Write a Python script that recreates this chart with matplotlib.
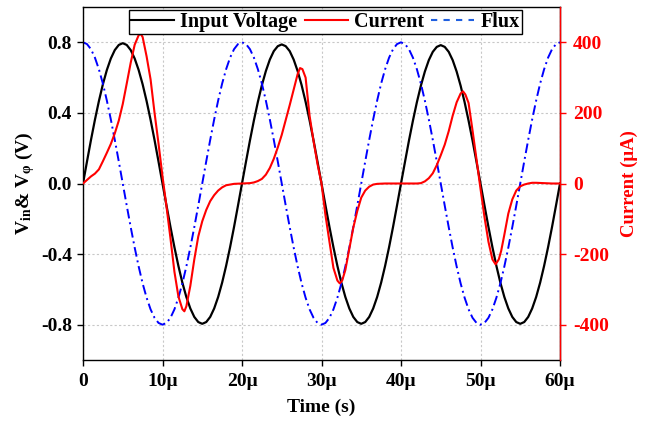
import numpy as np
import matplotlib
matplotlib.use('Agg')
import matplotlib.pyplot as plt
from matplotlib.lines import Line2D

plt.rcParams['font.family'] = ['Liberation Serif', 'DejaVu Serif']
plt.rcParams['font.weight'] = 'bold'
plt.rcParams['mathtext.fontset'] = 'custom'
plt.rcParams['mathtext.rm'] = 'Liberation Serif:bold'
plt.rcParams['mathtext.it'] = 'Liberation Serif:bold'
plt.rcParams['mathtext.bf'] = 'Liberation Serif:bold'

# time base for voltage and flux (us)
t_wave = np.linspace(0, 60, 121)

volt = [
    0.000, 0.124, 0.246, 0.361, 0.467, 0.562, 0.643, 0.708, 0.756, 0.785,
    0.795, 0.785, 0.756, 0.708, 0.643, 0.562, 0.467, 0.361, 0.246, 0.124,
    0.000, -0.124, -0.246, -0.361, -0.467, -0.562, -0.643, -0.708, -0.756, -0.785,
    -0.795, -0.785, -0.756, -0.708, -0.643, -0.562, -0.467, -0.361, -0.246, -0.124,
    0.000, 0.123, 0.244, 0.358, 0.463, 0.557, 0.637, 0.702, 0.750, 0.778,
    0.788, 0.778, 0.750, 0.702, 0.637, 0.557, 0.463, 0.358, 0.244, 0.123,
    0.000, -0.124, -0.246, -0.361, -0.467, -0.562, -0.643, -0.708, -0.756, -0.785,
    -0.795, -0.785, -0.756, -0.708, -0.643, -0.562, -0.467, -0.361, -0.246, -0.124,
    0.000, 0.122, 0.243, 0.356, 0.461, 0.554, 0.634, 0.699, 0.746, 0.774,
    0.784, 0.774, 0.746, 0.699, 0.634, 0.554, 0.461, 0.356, 0.243, 0.122,
    0.000, -0.124, -0.246, -0.361, -0.467, -0.562, -0.643, -0.708, -0.756, -0.785,
    -0.795, -0.785, -0.756, -0.708, -0.643, -0.562, -0.467, -0.361, -0.246, -0.124,
    0.000,
]

flux = [
    0.800, 0.790, 0.761, 0.713, 0.647, 0.566, 0.470, 0.363, 0.247, 0.125,
    0.000, -0.125, -0.247, -0.363, -0.470, -0.566, -0.647, -0.713, -0.761, -0.790,
    -0.800, -0.790, -0.761, -0.713, -0.647, -0.566, -0.470, -0.363, -0.247, -0.125,
    0.000, 0.125, 0.247, 0.363, 0.470, 0.566, 0.647, 0.713, 0.761, 0.790,
    0.800, 0.790, 0.761, 0.713, 0.647, 0.566, 0.470, 0.363, 0.247, 0.125,
    0.000, -0.125, -0.247, -0.363, -0.470, -0.566, -0.647, -0.713, -0.761, -0.790,
    -0.800, -0.790, -0.761, -0.713, -0.647, -0.566, -0.470, -0.363, -0.247, -0.125,
    0.000, 0.125, 0.247, 0.363, 0.470, 0.566, 0.647, 0.713, 0.761, 0.790,
    0.800, 0.790, 0.761, 0.713, 0.647, 0.566, 0.470, 0.363, 0.247, 0.125,
    0.000, -0.125, -0.247, -0.363, -0.470, -0.566, -0.647, -0.713, -0.761, -0.790,
    -0.800, -0.790, -0.761, -0.713, -0.647, -0.566, -0.470, -0.363, -0.247, -0.125,
    0.000, 0.125, 0.247, 0.363, 0.470, 0.566, 0.647, 0.713, 0.761, 0.790,
    0.800,
]

# current (uA) read at irregular times (us)
t_cur = [
    0, 0.5, 1, 1.5, 2, 2.5, 3, 3.5, 4, 4.5, 5, 5.5, 6, 6.5, 7, 7.25, 7.5, 8, 8.5, 9,
    9.5, 10, 10.5, 11, 11.5, 12, 12.5, 12.75, 13, 13.5, 14, 14.5, 15, 15.5, 16, 16.5, 17, 17.5, 18, 19,
    20, 21, 21.5, 22, 22.5, 23, 23.5, 24, 24.5, 25, 25.5, 26, 26.5, 27, 27.3, 27.6, 28, 28.5, 29, 29.5,
    30, 30.5, 31, 31.5, 32, 32.3, 32.6, 33, 33.5, 34, 34.5, 35, 35.5, 36, 36.5, 37, 38, 39,
    40, 42, 42.5, 43, 43.5, 44, 44.5, 45, 45.5, 46, 46.5, 47, 47.5, 47.8, 48.1, 48.5, 49, 49.5, 50, 50.5,
    51, 51.5, 51.9, 52.3, 52.6, 53, 53.5, 54, 54.5, 55, 55.5, 56, 56.5, 57, 58, 59, 60,
]
current = [
    0, 10, 20, 28, 40, 63, 87, 112, 142, 178, 225, 283, 342, 393, 420, 424, 415, 360, 295, 200,
    113, 20, -65, -155, -250, -320, -356, -362, -348, -290, -215, -150, -107, -75, -50, -33, -20, -11, -5, -1,
    0, 1, 3, 7, 13, 25, 44, 70, 102, 138, 180, 222, 266, 310, 327, 324, 300, 192, 120, 55,
    0, -90, -165, -239, -275, -283, -275, -245, -185, -125, -78, -40, -20, -9, -3, -1, 0, 0,
    0, 0, 1, 6, 15, 29, 52, 80, 110, 148, 192, 230, 255, 261, 252, 228, 150, 68, -15, -95,
    -165, -215, -229, -215, -191, -145, -85, -45, -20, -8, -3, 0, 2, 2, 1, 0, 0,
]

x_ticks = [0, 10, 20, 30, 40, 50, 60]
x_labels = ['0', '10\u03bc', '20\u03bc', '30\u03bc', '40\u03bc', '50\u03bc', '60\u03bc']
v_ticks = [-0.8, -0.4, 0.0, 0.4, 0.8]
i_ticks = [-400, -200, 0, 200, 400]

fig = plt.figure(figsize=(6.51, 4.22), dpi=100)
ax = fig.add_axes([83 / 651, 62 / 422, 477 / 651, 353 / 422])

ax.plot(t_wave, volt, color='black', lw=1.6)
ax.plot(t_wave, flux, color='blue', lw=1.4, dashes=(5, 2, 1, 2))
ax.set_xlim(0, 60)
ax.set_ylim(-1.0, 1.0)
ax.set_xticks(x_ticks)
ax.set_xticklabels(x_labels)
ax.set_yticks(v_ticks)
ax.set_yticklabels(['%.1f' % v for v in v_ticks])
ax.grid(True, color='#c8c8c8', linestyle=(0, (2, 2)), lw=0.8)
ax.tick_params(direction='out', length=4.5, width=1, labelsize=14)
ax.tick_params(axis='x', pad=5)
ax.set_xlabel('Time (s)', fontsize=14, fontweight='bold', labelpad=6)
ax.set_ylabel('V$_{in}$& V$_{\u03c6}$ (V)', fontsize=14, fontweight='bold', labelpad=3)
for s in ax.spines.values():
    s.set_linewidth(1.0)

ax2 = ax.twinx()
ax2.plot(t_cur, current, color='red', lw=1.5)
ax2.set_ylim(-500, 500)
ax2.set_yticks(i_ticks)
ax2.set_yticklabels([str(v) for v in i_ticks])
ax2.tick_params(axis='y', direction='out', length=4.5, width=1, pad=5,
                colors='red', labelsize=14)
ax2.set_ylabel('Current (\u03bcA)', color='red', fontsize=13.5, fontweight='bold', labelpad=8)
ax2.spines['right'].set_color('red')
ax2.spines['right'].set_linewidth(1.0)
for k in ['left', 'top', 'bottom']:
    ax2.spines[k].set_visible(False)

handles = [
    Line2D([], [], color='black', lw=1.5),
    Line2D([], [], color='red', lw=1.5),
    Line2D([], [], color='#1f5fe0', lw=1.5, linestyle=(0, (3, 3))),
]
leg = ax2.legend(handles, ['Input Voltage', 'Current', 'Flux'], ncol=3,
                 loc='upper center', bbox_to_anchor=(0.508, 0.992), borderaxespad=0,
                 fancybox=False, edgecolor='black', framealpha=1,
                 prop={'size': 14.5, 'weight': 'bold'},
                 borderpad=0.1, handlelength=2.15, handletextpad=0.3, columnspacing=0.35)
leg.get_frame().set_linewidth(1.0)

fig.savefig('out.png', dpi=100)
